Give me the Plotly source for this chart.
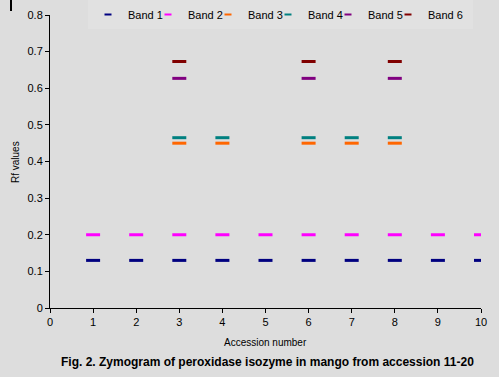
import plotly.graph_objects as go

accessions = [1, 2, 3, 4, 5, 6, 7, 8, 9, 10]
band_names = ["Band 1", "Band 2", "Band 3", "Band 4", "Band 5", "Band 6"]
band1_x = [1, 2, 3, 4, 5, 6, 7, 8, 9, 10]
band1_y = [0.13, 0.13, 0.13, 0.13, 0.13, 0.13, 0.13, 0.13, 0.13, 0.13]
band2_x = [1, 2, 3, 4, 5, 6, 7, 8, 9, 10]
band2_y = [0.2, 0.2, 0.2, 0.2, 0.2, 0.2, 0.2, 0.2, 0.2, 0.2]
band3_x = [3, 4, 6, 7, 8]
band3_y = [0.45, 0.45, 0.45, 0.45, 0.45]
band4_x = [3, 4, 6, 7, 8]
band4_y = [0.465, 0.465, 0.465, 0.465, 0.465]
band5_x = [3, 6, 8]
band5_y = [0.627, 0.627, 0.627]
band6_x = [3, 6, 8]
band6_y = [0.673, 0.673, 0.673]
colors = ["#000080", "#FF00FF", "#FF6600", "#008080", "#800080", "#800000"]

xs = [band1_x, band2_x, band3_x, band4_x, band5_x, band6_x]
ys = [band1_y, band2_y, band3_y, band4_y, band5_y, band6_y]

fig = go.Figure()
for i, (name, x, y, c) in enumerate(zip(band_names, xs, ys, colors)):
    fig.add_trace(go.Scatter(
        x=x, y=y, mode="markers", name=name, legendgroup=name,
        showlegend=False,
        marker=dict(symbol="line-ew", size=10, color=c,
                    line=dict(color=c, width=3)),
    ))
# legend entries (small dash symbols like the reference legend)
for i, (name, c) in enumerate(zip(band_names, colors)):
    fig.add_trace(go.Scatter(
        x=[None], y=[None], mode="markers", name=name, legendgroup=name,
        marker=dict(symbol="line-ew", size=5, color=c,
                    line=dict(color=c, width=2)),
        legendwidth=15 if i < len(band_names) - 1 else 40,
    ))

font_family = "Liberation Sans, Arial, sans-serif"
fig.update_layout(
    width=499, height=377,
    margin=dict(l=50, r=18, t=15, b=69, autoexpand=False),
    paper_bgcolor="#dddddd", plot_bgcolor="#dddddd",
    font=dict(family=font_family, size=11, color="black"),
    showlegend=True,
    legend=dict(
        orientation="h", xref="container", yref="container",
        x=88 / 499, xanchor="left", y=1.0, yanchor="top",
        bgcolor="#e1e1e1", font=dict(size=11),
        entrywidthmode="pixels",
        itemsizing="trace", borderwidth=0,
    ),
    xaxis=dict(
        range=[0, 10], dtick=1, tick0=0, showgrid=False, zeroline=False,
        showline=True, linecolor="black", linewidth=1,
        ticks="outside", ticklen=4, tickcolor="black",
        tickfont=dict(size=11), automargin=False,
    ),
    yaxis=dict(
        range=[0, 0.8], dtick=0.1, tick0=0, showgrid=False, zeroline=False,
        showline=True, linecolor="black", linewidth=1,
        ticks="outside", ticklen=4, tickcolor="black",
        tickfont=dict(size=11), automargin=False,
    ),
    annotations=[
        dict(text="Accession number", xref="paper", yref="paper",
             x=0.5, y=(308 - 342) / 293, xanchor="center", yanchor="middle",
             showarrow=False, font=dict(size=10)),
        dict(text="Rf values", xref="paper", yref="paper",
             x=(15 - 50) / 431, y=(308 - 162) / 293, xanchor="center", yanchor="middle",
             textangle=-90, showarrow=False, font=dict(size=10)),
        dict(text="<b>Fig. 2. Zymogram of peroxidase isozyme in mango from accession 11-20</b>",
             xref="paper", yref="paper",
             x=(267 - 50) / 431, y=(308 - 362) / 293, xanchor="center", yanchor="middle",
             showarrow=False, font=dict(size=12)),
    ],
    shapes=[
        dict(type="line", xref="paper", yref="paper",
             x0=(11 - 50) / 431, x1=(11 - 50) / 431,
             y0=(308 - 0) / 293, y1=(308 - 11) / 293,
             line=dict(color="black", width=2)),
    ],
)

fig.write_html(
    "out.html",
    config={"displayModeBar": False},
    post_script="document.body.style.margin='0';document.body.style.overflow='hidden';",
)
